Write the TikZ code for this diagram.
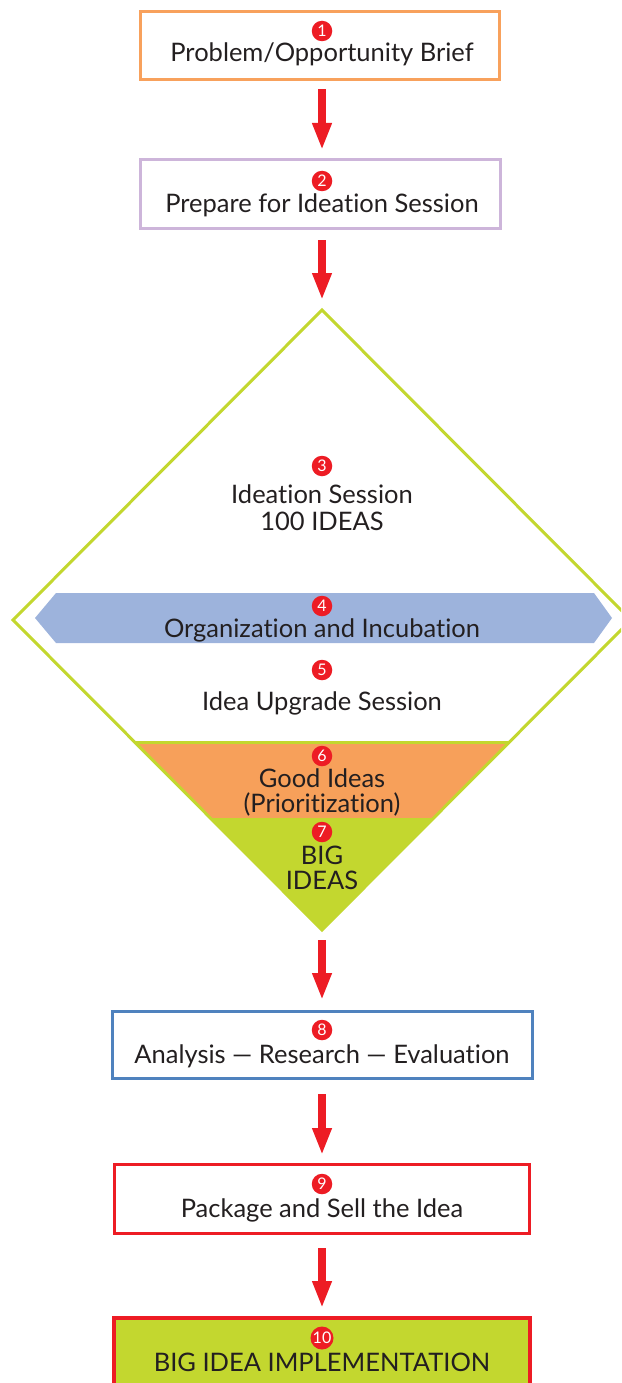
\documentclass[tikz,border=0pt]{standalone}
\usepackage{fontspec}
\setmainfont{Lato}[Ligatures=NoCommon]
\usetikzlibrary{arrows.meta}
\definecolor{stepred}{HTML}{ED1C24}
\definecolor{briefor}{HTML}{F8A15C}
\definecolor{prepvio}{HTML}{CDB5DA}
\definecolor{lime}{HTML}{C3D72F}
\definecolor{bandblue}{HTML}{9DB3DC}
\definecolor{bandor}{HTML}{F7A05A}
\definecolor{evalblue}{HTML}{4F82BE}
\definecolor{ink}{HTML}{231F20}
\begin{document}
\begin{tikzpicture}[x=1pt,y=-1pt,
  lbl/.style={font=\fontsize{25.5}{28}\selectfont, text=ink, inner sep=0pt, anchor=base},
  badge/.style={circle, fill=stepred, text=white, font=\fontsize{16}{16}\selectfont,
    minimum size=20.5pt, inner sep=0pt},
  stepbox/.style={draw, line width=3pt, fill=white, inner sep=0pt},
  flow/.style={draw=stepred, line width=8pt, -{Triangle[width=18pt,length=27pt]}}
]
\useasboundingbox (0,0) rectangle (621,1383);
\clip (0,0) rectangle (621,1383);

% --- boxes
\node[stepbox, draw=briefor, minimum width=359pt, minimum height=68pt] (box1) at (320,46) {};
\node[stepbox, draw=prepvio, minimum width=360pt, minimum height=69pt] (box2) at (320.5,194) {};
\node[stepbox, draw=evalblue, minimum width=420pt, minimum height=67pt] (box8) at (322.5,1045) {};
\node[stepbox, draw=stepred, minimum width=415pt, minimum height=69pt] (box9) at (322,1199) {};
\node[stepbox, draw=stepred, fill=lime, line width=4pt, minimum width=416pt, minimum height=100pt] (box10) at (322,1368) {};

% --- diamond funnel
\coordinate (dtop) at (322,310);
\coordinate (dleft) at (13,620);
\coordinate (dright) at (631,620);
\coordinate (dbot) at (322,930);

\fill[bandor] (134.6,742) -- (509,742) -- (433,818) -- (210.4,818) -- cycle;
\fill[lime] (210.4,818) -- (433,818) -- (dbot) -- cycle;
\draw[lime, line width=3pt] (134.6,742) -- (509,742);
\fill[bandblue] (35,618) -- (56,593) -- (594,593) -- (612,618) -- (594,643) -- (56,643) -- cycle;
\draw[lime, line width=3pt, line join=miter] (dtop) -- (dright) -- (dbot) -- (dleft) -- cycle;

% --- badges
\node[badge] (b1) at (322,31) {1};
\node[badge] (b2) at (322,181) {2};
\node[badge] (b3) at (322,466) {3};
\node[badge] (b4) at (322,606) {4};
\node[badge] (b5) at (322,670) {5};
\node[badge] (b6) at (322,756) {6};
\node[badge] (b7) at (322,832) {7};
\node[badge] (b8) at (322,1030) {8};
\node[badge] (b9) at (322,1184) {9};
\node[badge, minimum size=23pt] (b10) at (322,1338) {10};

% --- labels
\node[lbl] (t1) at (322,62) {Problem/Opportunity Brief};
\node[lbl] (t2) at (322,212) {Prepare for Ideation Session};
\node[lbl] (t3a) at (322,503) {Ideation Session};
\node[lbl] (t3b) at (322,530) {100 IDEAS};
\node[lbl] (t4) at (322,637) {Organization and Incubation};
\node[lbl] (t5) at (322,710) {Idea Upgrade Session};
\node[lbl] (t6a) at (322,787) {Good Ideas};
\node[lbl] (t6b) at (322,812) {(Prioritization)};
\node[lbl] (t7a) at (322,864) {BIG};
\node[lbl] (t7b) at (322,889) {IDEAS};
\node[lbl] (t8) at (322,1063) {Analysis — Research — Evaluation};
\node[lbl] (t9) at (322,1217) {Package and Sell the Idea};
\node[lbl] (t10) at (322,1371) {BIG IDEA IMPLEMENTATION};

% --- flow arrows
\draw[flow, shorten <=8pt, shorten >=8pt] (box1.south -| 322,0) -- (box2.north -| 322,0);
\draw[flow, shorten <=10pt, shorten >=10pt] (box2.south -| 322,0) -- (dtop);
\draw[flow, shorten <=10pt, shorten >=10pt] (dbot) -- (box8.north -| 322,0);
\draw[flow, shorten <=14pt, shorten >=8pt] (box8.south -| 322,0) -- (box9.north -| 322,0);
\draw[flow, shorten <=13pt, shorten >=8pt] (box9.south -| 322,0) -- (box10.north -| 322,0);
\end{tikzpicture}
\end{document}
